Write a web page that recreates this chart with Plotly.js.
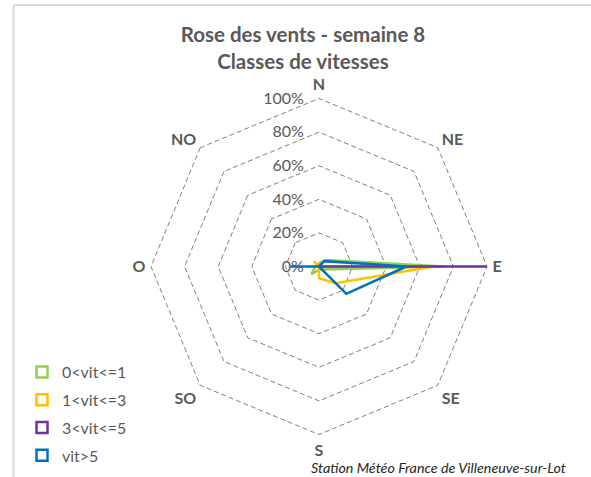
<!DOCTYPE html>
<html>
<head>
<meta charset="utf-8">
<script src="https://cdn.plot.ly/plotly-3.0.1.min.js"></script>
<style>
  html, body { margin: 0; padding: 0; background: #ffffff; }
  #chart { width: 591px; height: 477px; }
</style>
</head>
<body>
<div id="chart"></div>
<script>
// Directions (clockwise from north)
const directions = ["N", "NE", "E", "SE", "S", "SO", "O", "NO"];
const seriesNames = ["0<vit<=1", "1<vit<=3", "3<vit<=5", "vit>5"];
const calme = [0.02, 0.055, 0.75, 0.025, 0.02, 0.065, 0.02, 0.01];
const faible = [0, 0, 0.68, 0.14, 0.07, 0, 0, 0.045];
const moyen = [0, 0, 1.0, 0, 0, 0, 0, 0];
const fort = [0, 0.045, 0.52, 0.23, 0, 0, 0.17, 0];
const seriesColors = ["#92D050", "#FFC000", "#7030A0", "#0070C0"];
const radialTicks = [0, 0.2, 0.4, 0.6, 0.8, 1.0];
const radialTickText = ["0%", "20%", "40%", "60%", "80%", "100%"];

const allSeries = [calme, faible, moyen, fort];
const gray = "#595959";
const font = "Lato, 'Open Sans', sans-serif";

const traces = [];
allSeries.forEach((values, i) => {
  traces.push({
    type: "scatterpolar",
    mode: "lines",
    r: values.concat([values[0]]),
    theta: directions.concat([directions[0]]),
    line: { color: seriesColors[i], width: 2.5 },
    showlegend: false,
    hoverinfo: "skip"
  });
});

// legend-only entries drawn as open squares, like the original
seriesNames.forEach((name, i) => {
  traces.push({
    type: "scatterpolar",
    mode: "markers",
    r: [null],
    theta: [directions[0]],
    name: name,
    legendgroup: "g" + i,
    marker: {
      symbol: "square-open",
      size: 11,
      color: seriesColors[i],
      line: { width: 2.5, color: seriesColors[i] }
    }
  });
});

const W = 591, H = 477;
const rMax = 1.03;
const cx = 319, cy = 266.5, R = 168 * rMax;

const layout = {
  width: W,
  height: H,
  margin: { t: 0, b: 0, l: 0, r: 0 },
  paper_bgcolor: "#ffffff",
  font: { family: font, color: gray, size: 14 },
  title: {
    text: "<b>Rose des vents - semaine 8<br>Classes de vitesses</b>",
    font: { family: font, size: 20.5, color: gray },
    x: 303 / W,
    xanchor: "center",
    y: 1 - 42 / H,
    yanchor: "middle"
  },
  polar: {
    domain: {
      x: [(cx - R) / W, (cx + R) / W],
      y: [(H - cy - R) / H, (H - cy + R) / H]
    },
    gridshape: "linear",
    bgcolor: "#ffffff",
    angularaxis: {
      type: "category",
      categoryarray: directions,
      direction: "clockwise",
      rotation: 90,
      showgrid: false,
      showline: false,
      ticks: "",
      tickfont: { family: font, size: 16, color: gray, weight: "bold" }
    },
    radialaxis: {
      range: [0, rMax],
      angle: 90,
      side: "counterclockwise",
      tickangle: 90,
      tickvals: radialTicks,
      ticktext: radialTickText,
      tickfont: { family: font, size: 16, color: gray },
      ticks: "outside",
      ticklen: 9,
      tickcolor: "rgba(0,0,0,0)",
      showline: false,
      gridcolor: "#7f7f7f",
      gridwidth: 1.3,
      griddash: "5px,3px"
    }
  },
  legend: {
    x: 22 / W,
    xanchor: "left",
    y: 1 - 355 / H,
    yanchor: "top",
    tracegroupgap: 4,
    itemwidth: 30,
    font: { family: font, size: 16, color: gray }
  },
  annotations: [{
    text: "Station Météo France de Villeneuve-sur-Lot",
    xref: "paper",
    yref: "paper",
    x: 309 / W,
    xanchor: "left",
    y: 1 - 467 / H,
    yanchor: "middle",
    showarrow: false,
    font: { family: font, size: 14.3, color: "#262626", style: "italic" }
  }],
  shapes: [
    {
      type: "line", xref: "paper", yref: "paper",
      x0: 13.5 / W, x1: 13.5 / W, y0: 0, y1: 1 - 5 / H,
      line: { color: "#d9d9d9", width: 2 }
    },
    {
      type: "line", xref: "paper", yref: "paper",
      x0: 13.5 / W, x1: 1, y0: 1 - 5 / H, y1: 1 - 5 / H,
      line: { color: "#d9d9d9", width: 2 }
    }
  ]
};

Plotly.newPlot("chart", traces, layout, {
  displayModeBar: false,
  responsive: false
});
</script>
</body>
</html>
